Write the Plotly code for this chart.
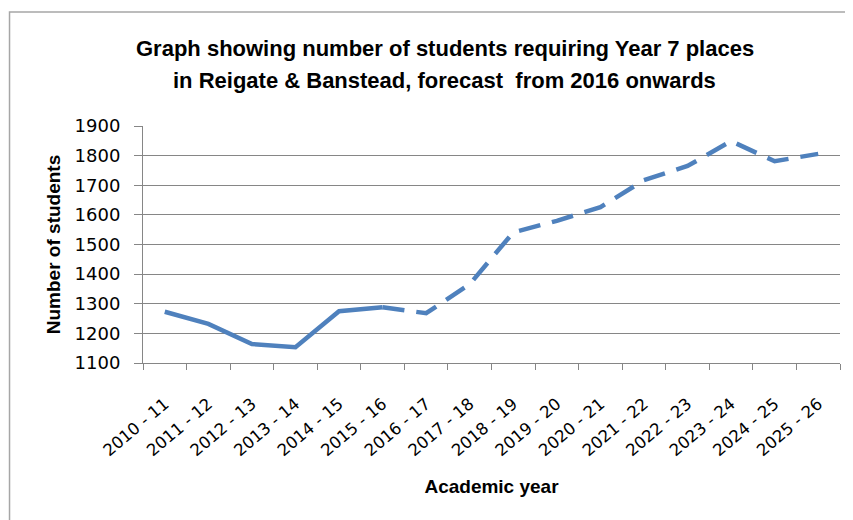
import plotly.graph_objects as go

# academic years and pupil numbers (actual to 2015-16, forecast after)
years = ["2010 - 11", "2011 - 12", "2012 - 13", "2013 - 14", "2014 - 15", "2015 - 16",
         "2016 - 17", "2017 - 18", "2018 - 19", "2019 - 20", "2020 - 21", "2021 - 22",
         "2022 - 23", "2023 - 24", "2024 - 25", "2025 - 26"]
students = [1273, 1232, 1164, 1153, 1275, 1288,
            1268, 1366, 1541, 1580, 1626, 1717,
            1765, 1849, 1781, 1806]
split = 5  # index of last actual value (2015-16)
title_lines = ["Graph showing number of students requiring Year 7 places",
               "in Reigate & Banstead, forecast  from 2016 onwards"]

blue = "#4f81bd"
bold_font = "Liberation Sans, Arial"
fig = go.Figure()

fig.add_trace(go.Scatter(x=years[:split + 1], y=students[:split + 1], mode="lines",
                         line=dict(color=blue, width=4.5), showlegend=False))
fig.add_trace(go.Scatter(x=years[split:], y=students[split:], mode="lines",
                         line=dict(color=blue, width=4.5, dash="22px,12px"), showlegend=False))

# the page body adds 8px, so margins are trimmed by that much
fig.update_layout(
    width=853, height=520,
    margin=dict(l=135, r=21, t=118, b=165),
    paper_bgcolor="white", plot_bgcolor="white",
    font=dict(family="DejaVu Sans, Verdana", color="black"),
)

# two title lines placed separately to get the wider line spacing
for txt, yy in zip(title_lines, [1.329, 1.194]):
    fig.add_annotation(text="<b>" + txt + "</b>", xref="paper", yref="paper",
                       x=0.433, y=yy, xanchor="center", yanchor="middle", showarrow=False,
                       font=dict(family=bold_font, size=22, color="black"))

fig.update_xaxes(
    type="category", categoryorder="array", categoryarray=years,
    range=[-0.5, len(years) - 0.5],
    tickson="boundaries", ticks="outside", ticklen=6, tickcolor="#868686",
    showline=True, linecolor="#868686", linewidth=1, showgrid=False,
    tickangle=-40, tickfont=dict(size=16.5), ticklabelstandoff=24,
    title=dict(text="<b>Academic year</b>",
               font=dict(family=bold_font, size=19), standoff=20),
)
fig.update_yaxes(
    range=[1100, 1900], dtick=100, tick0=1100,
    ticks="outside", ticklen=8, tickcolor="#868686",
    showline=True, linecolor="#868686", linewidth=1,
    showgrid=True, gridcolor="#868686", gridwidth=1, zeroline=False,
    tickfont=dict(size=18), ticklabelstandoff=10,
    title=dict(text="<b>Number of students</b>",
               font=dict(family=bold_font, size=19), standoff=8),
)

# outer chart border (extends past the bottom/right of the image)
fig.add_shape(type="rect", xref="paper", yref="paper",
              x0=-0.1915, x1=1.03, y0=-0.72, y1=1.481,
              line=dict(color="#a6a6a6", width=1.5), fillcolor="rgba(0,0,0,0)", layer="below")

fig.write_html("out.html")
